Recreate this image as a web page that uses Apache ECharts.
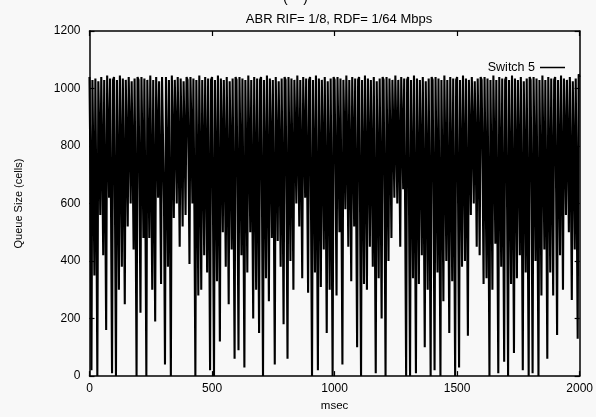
<!DOCTYPE html>
<html>
<head>
<meta charset="utf-8">
<script src="https://cdn.jsdelivr.net/npm/echarts@6/dist/echarts.min.js"></script>
<style>
html,body{margin:0;padding:0;background:#f8f8f8;}
#chart{width:596px;height:417px;}
</style>
</head>
<body>
<div id="chart"></div>
<script>
// Chart text
const titleText = "ABR RIF= 1/8, RDF= 1/64 Mbps";
const seriesName = "Switch 5";
const xAxisName = "msec";
const yAxisName = "Queue Size (cells)";
const xTicks = [0, 500, 1000, 1500, 2000];
const yTicks = [0, 200, 400, 600, 800, 1000, 1200];
const sampleStepMs = 4;

const queueSize = [
  1040,700,20, 1030,720,350, 1035,600,0, 1025,840,560, 1040,760,420, 1030,640,160, 1045,850,620, 1035,560,10, 1030,
  1040,580,0, 1030,700,300, 1045,760,380, 1035,680,250, 1030,800,520, 1040,840,600, 1025,760,440, 1035,600,0, 1040,
  1030,650,220, 1040,780,480, 1035,580,0, 1030,800,480, 1045,700,300, 1030,640,190, 1040,850,620, 1025,700,320, 1040,
  1035,600,40, 1040,740,380, 1030,560,0, 1045,820,550, 1030,840,600, 1040,780,450, 1035,800,520, 1025,820,560, 1040,
  1030,760,390, 1040,850,600, 1035,580,0, 1030,700,280, 1045,720,300, 1030,760,420, 1040,740,360, 1035,600,20, 1030,
  1040,560,0, 1030,720,330, 1045,620,120, 1035,800,500, 1030,740,380, 1040,680,250, 1025,760,440, 1035,600,60, 1040,
  1030,620,90, 1040,760,420, 1035,580,30, 1030,740,360, 1045,800,500, 1030,640,200, 1040,720,300, 1035,660,150, 1030,
  1040,580,0, 1030,720,340, 1045,700,260, 1035,780,480, 1030,600,40, 1040,790,470, 1025,740,380, 1035,650,180, 1040,
  1030,600,60, 1040,760,400, 1035,720,300, 1030,830,600, 1045,800,520, 1030,740,340, 1040,840,620, 1035,700,290, 1030,
  1040,560,0, 1030,740,360, 1045,600,20, 1035,720,310, 1030,780,440, 1040,640,150, 1025,720,300, 1035,580,0, 1040,
  1030,700,280, 1040,800,500, 1035,600,40, 1030,830,580, 1045,780,450, 1030,740,330, 1040,800,520, 1035,620,100, 1030,
  1040,580,0, 1030,720,320, 1045,720,300, 1035,780,450, 1030,740,380, 1040,560,10, 1025,720,340, 1035,660,200, 1040,
  1030,600,0, 1040,760,400, 1035,800,480, 1030,840,620, 1045,840,600, 1030,790,450, 1040,850,650, 1035,580,0, 1030,
  1040,560,0, 1030,720,340, 1045,600,10, 1035,720,320, 1030,760,420, 1040,620,100, 1025,720,300, 1035,580,0, 1040,
  1030,600,20, 1040,740,360, 1035,560,0, 1030,700,260, 1045,760,400, 1030,640,150, 1040,720,330, 1035,580,0, 1030,
  1040,600,30, 1030,740,380, 1045,770,400, 1035,620,140, 1030,820,560, 1040,840,600, 1025,780,450, 1035,780,420, 1040,
  1030,720,320, 1040,720,340, 1035,580,0, 1030,720,300, 1045,780,460, 1030,560,10, 1040,740,380, 1035,600,50, 1030,
  1040,580,0, 1030,720,320, 1045,620,80, 1035,740,340, 1030,760,420, 1040,600,20, 1025,740,360, 1035,560,0, 1040,
  1030,600,10, 1040,760,400, 1035,560,0, 1030,700,280, 1045,780,440, 1030,620,60, 1040,740,360, 1035,700,280, 1030,
  1040,640,143, 1030,760,420, 1045,720,300, 1035,820,560, 1030,800,500, 1040,700,265, 1025,760,440, 1035,620,130, 1050,
  1040
];

const seriesData = queueSize.map((v, i) => [i * sampleStepMs, v]);

const font = "Liberation Sans, Arial, Helvetica, sans-serif";
const chart = echarts.init(document.getElementById('chart'), null, {renderer: 'canvas'});

const frameLine = {show: true, onZero: false, lineStyle: {color: '#000', width: 1.5}};
const tickIn = {show: true, inside: true, length: 5, lineStyle: {color: '#000', width: 1.2}};

chart.setOption({
  backgroundColor: '#f8f8f8',
  animation: false,
  title: {
    text: titleText,
    left: 334, top: 8, textAlign: 'center',
    textStyle: {fontFamily: font, fontSize: 13, fontWeight: 'normal', color: '#000'}
  },
  graphic: [{
    type: 'text', left: 283, top: -9,
    style: {text: '(    )', font: '14px ' + font, fill: '#000'}
  }],
  legend: {
    data: [seriesName],
    right: 26, top: 56, align: 'right',
    icon: 'rect', itemWidth: 25, itemHeight: 1.5, itemGap: 6,
    textStyle: {fontFamily: font, fontSize: 12.5, color: '#000'}
  },
  grid: {left: 89.5, right: 16, top: 31, bottom: 31},
  xAxis: [{
    type: 'value', min: 0, max: 2000, interval: 500,
    name: xAxisName, nameLocation: 'middle', nameGap: 18,
    nameTextStyle: {fontFamily: font, fontSize: 11.5, color: '#000'},
    axisLine: frameLine, axisTick: tickIn, splitLine: {show: false},
    axisLabel: {fontFamily: font, fontSize: 12, color: '#000', margin: 7,
      formatter: v => xTicks.includes(v) ? String(v) : ''}
  }, {
    type: 'value', min: 0, max: 2000, interval: 500, position: 'top',
    axisLine: frameLine, axisTick: tickIn, axisLabel: {show: false}, splitLine: {show: false}
  }],
  yAxis: [{
    type: 'value', min: 0, max: 1200, interval: 200,
    name: yAxisName, nameLocation: 'middle', nameGap: 65, nameRotate: 90,
    nameTextStyle: {fontFamily: font, fontSize: 11, color: '#000'},
    axisLine: frameLine, axisTick: tickIn, splitLine: {show: false},
    axisLabel: {fontFamily: font, fontSize: 12, color: '#000', margin: 9,
      formatter: v => yTicks.includes(v) ? String(v) : ''}
  }, {
    type: 'value', min: 0, max: 1200, interval: 200, position: 'right',
    axisLine: frameLine, axisTick: tickIn, axisLabel: {show: false}, splitLine: {show: false}
  }],
  series: [{
    name: seriesName, type: 'line', data: seriesData,
    showSymbol: false, symbol: 'none',
    lineStyle: {color: '#000', width: 2.1},
    itemStyle: {color: '#000'},
    clip: true
  }]
});
</script>
</body>
</html>
